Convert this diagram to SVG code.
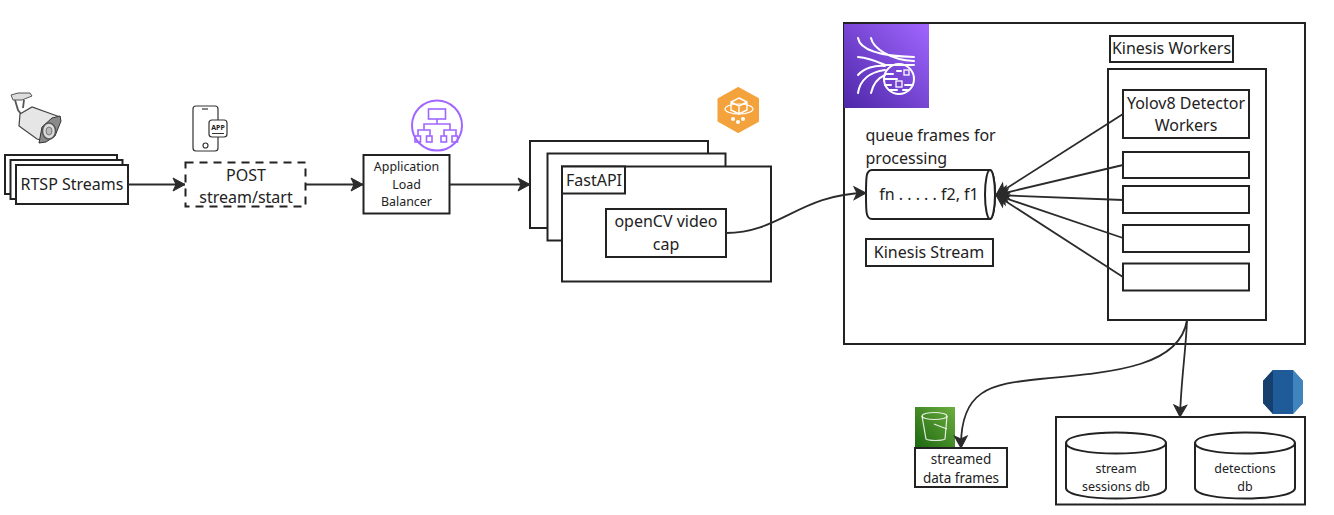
<svg xmlns="http://www.w3.org/2000/svg" width="1334" height="515" viewBox="0 0 1334 515">
<style>
.b{fill:#fff;stroke:#222;stroke-width:2}
.l{font-family:"Noto Sans",sans-serif;font-size:16px;fill:#222;text-anchor:middle}
.m{font-family:"Noto Sans",sans-serif;font-size:12.400px;fill:#222;text-anchor:middle}
.c{fill:none;stroke:#2b2b2b;stroke-width:1.800}
.w{fill:none;stroke:#fff;stroke-width:2;stroke-linecap:round}
.p{fill:none;stroke:#a166ff;stroke-width:1.600}
.i{fill:none;stroke:#333;stroke-width:1.200}
</style>
<defs>
<marker id="a" markerUnits="userSpaceOnUse" markerWidth="16" markerHeight="16" refX="13" refY="8" orient="auto"><path d="M1 1.500L13 8L1 14.500L4 8Z" fill="#2b2b2b" stroke="#2b2b2b"/></marker>
<linearGradient id="gp" x1="0" y1="1" x2="1" y2="0"><stop offset="0" stop-color="#4d27a8"/><stop offset="1" stop-color="#a166ff"/></linearGradient>
<linearGradient id="gg" x1="0" y1="1" x2="1" y2="0"><stop offset="0" stop-color="#1b660f"/><stop offset="1" stop-color="#6cae3e"/></linearGradient>
</defs>

<g id="camera">
<path d="M11 95L18 93H30L32 96L22 100H13Z" fill="#ddd" stroke="#555"/>
<path d="M15 100L18 110L21 114M24 100L23 108" fill="none" stroke="#555" stroke-width="1.800"/>
<path d="M20 114L32 107L60 117L45 141L37 139L19 126Z" fill="#e6e6e6" stroke="#444" stroke-width="1.200"/>
<path d="M39 143L42 127L52 118L60 116L61 121L55 136L46 142Z" fill="#8a8a8a" stroke="#333"/>
<ellipse cx="49" cy="131" rx="6.500" ry="8" fill="#ddd" stroke="#555" stroke-width="1.500"/>
<ellipse cx="49" cy="131" rx="3" ry="4" fill="#bbb" stroke="#777"/>
</g>
<g id="rtsp">
<rect class="b" x="5" y="155" width="112" height="39"/>
<rect class="b" x="10.500" y="160" width="112" height="39"/>
<rect class="b" x="16" y="165" width="112" height="39"/>
<text class="l" x="72" y="190">RTSP Streams</text>
</g>
<g id="phone">
<rect x="193" y="106" width="25" height="45" rx="3" fill="#fff" stroke="#333" stroke-width="1.200"/>
<path class="i" d="M202 109H208"/>
<circle class="i" cx="205.500" cy="145.500" r="2.500"/>
<rect x="209" y="120" width="18" height="17" rx="3" fill="#fff" stroke="#333" stroke-width="1.200"/>
<text x="218" y="130" font-family="Noto Sans,sans-serif" font-size="7" font-weight="700" fill="#222" text-anchor="middle">APP</text>
<path d="M212 133.500H224" stroke="#333"/>
</g>
<g id="post">
<rect x="185.500" y="162.500" width="120" height="44" fill="#fff" stroke="#222" stroke-width="2" stroke-dasharray="8 6"/>
<text class="l" x="246" y="181">POST</text>
<text class="l" x="246" y="203">stream/start</text>
</g>
<g id="alb-icon">
<circle cx="437" cy="125.500" r="25" fill="#fff" stroke="#a166ff" stroke-width="2"/>
<rect class="p" x="428.500" y="109" width="17" height="10"/>
<path class="p" d="M437 119V124M424 130V124H450V130M418 136V130H430V136M444 136V130H456V136"/>
<rect class="p" x="415" y="136" width="5.500" height="6"/><rect class="p" x="426.500" y="136" width="5.500" height="6"/><rect class="p" x="441" y="136" width="5.500" height="6"/><rect class="p" x="452" y="136" width="5.500" height="6"/>
</g>
<g id="alb">
<rect class="b" x="363.500" y="155" width="86" height="58.500"/>
<text class="m" x="406.500" y="171">Application</text>
<text class="m" x="406.500" y="189">Load</text>
<text class="m" x="406.500" y="206">Balancer</text>
</g>
<g id="fastapi-icon">
<path d="M738 88L758 99V121L738 132L718.500 121V99Z" fill="#f4a23c" stroke="#f4a23c" stroke-linejoin="round" stroke-width="2"/>
<path class="w" stroke-width="1.400" d="M739 98L747 102V110L739 114L731 110V102ZM731 102L739 106L747 102M739 106V114" style="stroke-width:1.400"/>
<ellipse class="w" cx="739" cy="109" rx="14" ry="5" style="stroke-width:1.200"/>
<circle cx="733" cy="119" r="2" fill="#fff"/><circle cx="743" cy="119" r="2" fill="#fff"/><circle cx="738" cy="122" r="2" fill="#fff"/>
</g>
<g id="fastapi">
<rect class="b" x="530" y="141" width="178" height="87"/>
<rect class="b" x="547.500" y="153.500" width="178" height="87"/>
<rect class="b" x="562" y="166.500" width="209" height="115"/>
<rect class="b" x="562" y="166.500" width="63" height="27"/>
<text class="l" x="594" y="186">FastAPI</text>
</g>
<g id="opencv">
<rect class="b" x="606" y="209" width="120" height="48"/>
<text class="l" x="666" y="227">openCV video</text>
<text class="l" x="666" y="250">cap</text>
</g>
<g id="kinesis">
<rect class="b" x="844" y="23" width="461" height="321"/>
<rect x="844" y="24" width="85" height="84" fill="url(#gp)"/>
<path class="w" d="M858 38C860 50 880 56 914 57M871 38C873 48 890 60 914 61M858 57C870 58 878 62 885 65H914M858 75C864 68 875 65 885 66M858 93C860 80 870 72 885 70M871 93C873 84 878 78 885 75"/>
<circle class="w" cx="899" cy="79" r="15"/>
<path class="w" d="M885 74H893M897 71H901M885 79H897M885 85H891M905 85H913M903 90H909M889 90H897"/>
<rect class="w" x="904" y="70" width="5" height="5" style="stroke-width:1.300"/>
<rect class="w" x="896" y="81" width="6" height="6" style="stroke-width:1.300"/>
</g>
<g id="queue-label">
<text class="l" x="865.500" y="141" style="text-anchor:start">queue frames for</text>
<text class="l" x="865.500" y="164" style="text-anchor:start">processing</text>
</g>
<g id="kinesis-stream">
<path class="b" d="M872 170H990A5 24.500 0 0 1 990 219H872C866 219 866 212 866 194.500C866 177 866 170 872 170Z"/>
<ellipse class="b" cx="990" cy="194.500" rx="5" ry="24.500"/>
<text class="l" x="929" y="200">fn . . . . . f2, f1</text>
</g>
<g id="kinesis-stream-label">
<rect class="b" x="866" y="239" width="127" height="27"/>
<text class="l" x="929" y="258">Kinesis Stream</text>
</g>
<g id="workers-label">
<rect class="b" x="1110" y="36" width="123" height="26"/>
<text class="l" x="1171.500" y="54">Kinesis Workers</text>
</g>
<g id="workers">
<rect class="b" x="1108" y="69" width="158" height="251"/>
</g>
<g id="worker-1">
<rect class="b" x="1123" y="90" width="126" height="48"/>
<text class="l" x="1186" y="109">Yolov8 Detector</text>
<text class="l" x="1186" y="131">Workers</text>
</g>
<g id="worker-2"><rect class="b" x="1123" y="152" width="126" height="26"/></g>
<g id="worker-3"><rect class="b" x="1123" y="186" width="126" height="27"/></g>
<g id="worker-4"><rect class="b" x="1123" y="225" width="126" height="27"/></g>
<g id="worker-5"><rect class="b" x="1123" y="263.500" width="126" height="27"/></g>
<g id="s3-icon">
<rect x="915" y="407" width="40" height="41" fill="url(#gg)"/>
<path d="M922 416L926 439C930 441 941 441 945 439L947 416" fill="none" stroke="#fff" stroke-opacity=".85" stroke-width="1.200"/>
<ellipse cx="934.500" cy="416" rx="12.500" ry="3.500" fill="none" stroke="#fff" stroke-opacity=".85" stroke-width="1.200"/>
<path d="M934 424L947 429" stroke="#fff" stroke-opacity=".85" stroke-width="1.200"/>
</g>
<g id="s3">
<rect class="b" x="915" y="448" width="92" height="39"/>
<text class="m" x="961" y="464" style="font-size:13.500px">streamed</text>
<text class="m" x="961" y="483" style="font-size:13.500px">data frames</text>
</g>
<g id="rds-icon">
<path d="M1273 370H1293L1303 381V403L1293 414H1273L1263 403V381Z" fill="#205b99"/>
<path d="M1273 370V414L1263 403V381Z" fill="#153f6c"/>
<path d="M1293 370L1303 381V403L1293 414Z" fill="#4084be"/>
</g>
<g id="rds">
<rect class="b" x="1056" y="417" width="249" height="87.500"/>
</g>
<g id="stream-sessions-db">
<path class="b" d="M1066 443C1066 429 1166 429 1166 443V488C1166 502 1066 502 1066 488Z"/>
<path class="b" d="M1066 443C1066 457 1166 457 1166 443" fill="none"/>
<text class="m" x="1116" y="473" style="font-size:12.500px">stream</text>
<text class="m" x="1116" y="491" style="font-size:12.500px">sessions db</text>
</g>
<g id="detections-db">
<path class="b" d="M1195 443C1195 429 1295 429 1295 443V488C1295 502 1195 502 1195 488Z"/>
<path class="b" d="M1195 443C1195 457 1295 457 1295 443" fill="none"/>
<text class="m" x="1245" y="473" style="font-size:12.500px">detections</text>
<text class="m" x="1245" y="491" style="font-size:12.500px">db</text>
</g>
<g id="connectors">
<path class="c" marker-end="url(#a)" d="M128 184.500H185"/>
<path class="c" marker-end="url(#a)" d="M306 184.500H363"/>
<path class="c" marker-end="url(#a)" d="M450 184.500H530"/>
<path class="c" marker-end="url(#a)" d="M726 233C780 233 800 194 866 193"/>
<path class="c" marker-end="url(#a)" d="M1123 114L996 195"/>
<path class="c" marker-end="url(#a)" d="M1123 165L996 195"/>
<path class="c" marker-end="url(#a)" d="M1123 200L996 195"/>
<path class="c" marker-end="url(#a)" d="M1123 238L996 195"/>
<path class="c" marker-end="url(#a)" d="M1123 277L996 195"/>
<path class="c" marker-end="url(#a)" d="M1187 320C1180 365 1120 372 1040 379C990 384 960 390 961 448"/>
<path class="c" marker-end="url(#a)" d="M1187 320C1186 350 1181 380 1180 417"/>
</g>
</svg>
